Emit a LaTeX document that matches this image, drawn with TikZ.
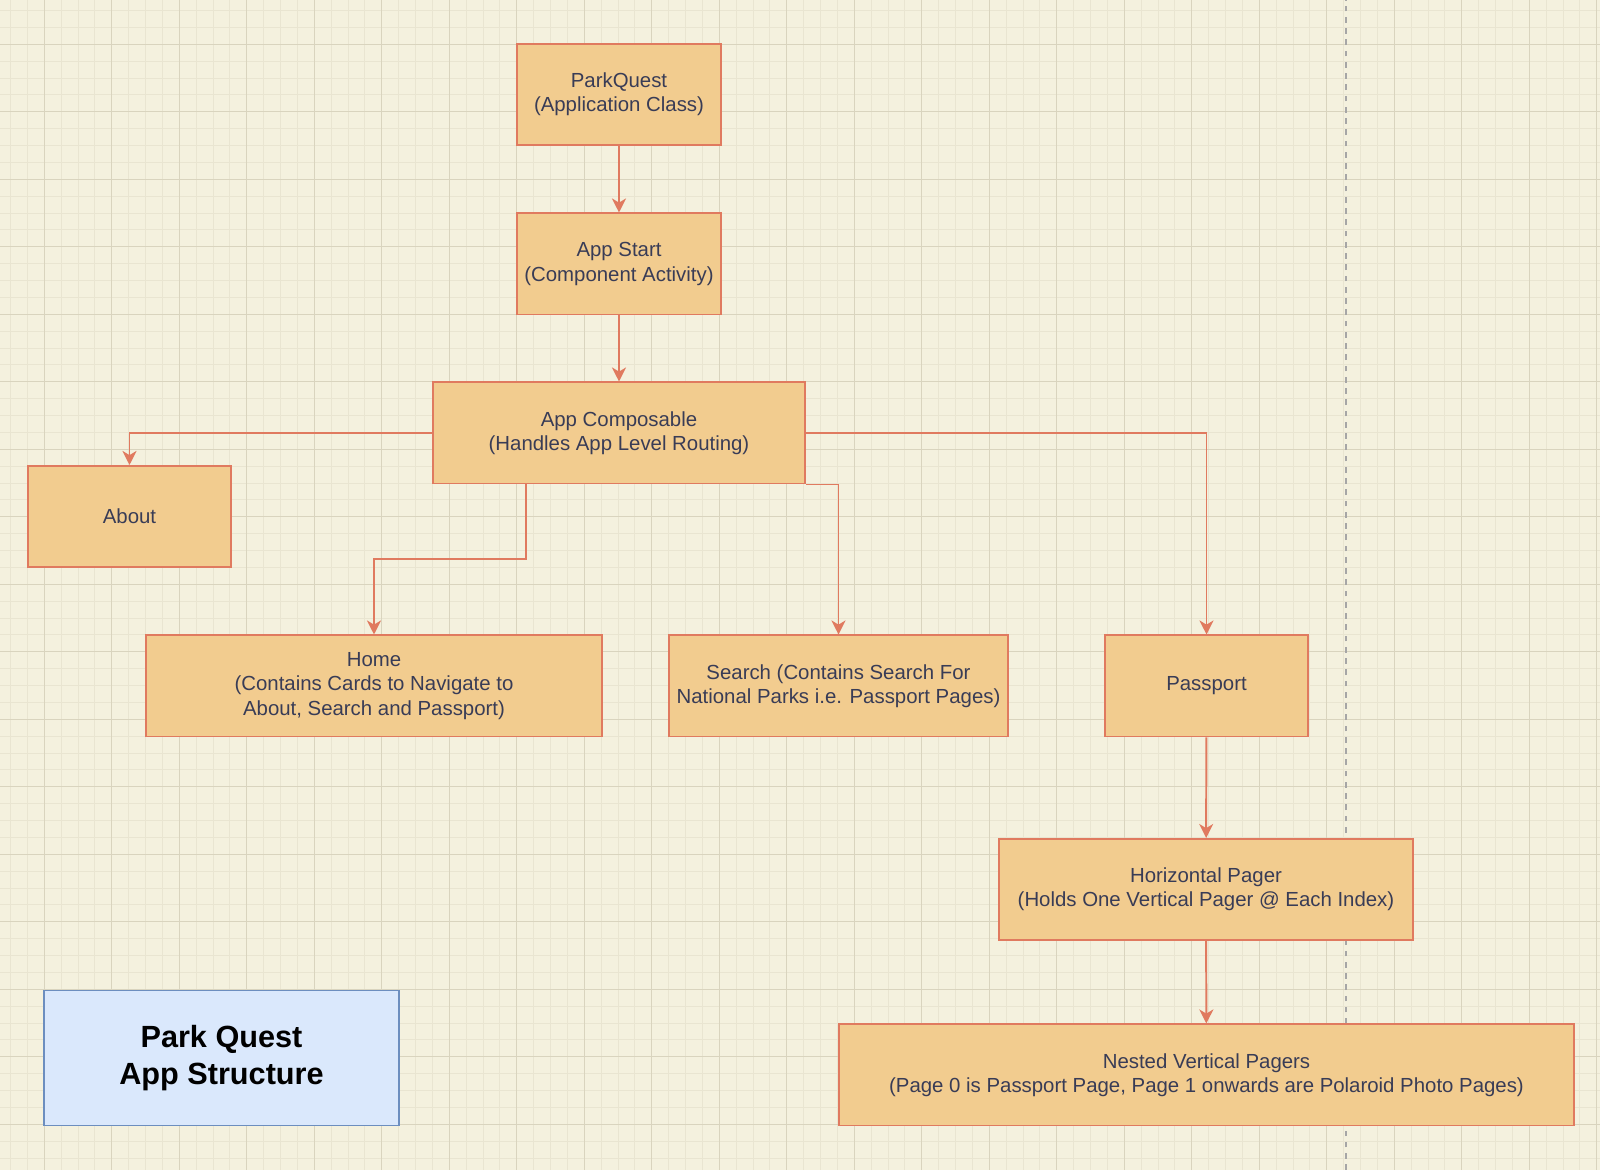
\documentclass[tikz,border=0pt]{standalone}
\usepackage{xcolor}
\usepackage{fontspec}
\setmainfont{Liberation Sans}
\usepackage{tikz}
\usetikzlibrary{positioning,shapes,arrows.meta}
\definecolor{paper}{HTML}{F4F1DE}
\definecolor{gridminor}{HTML}{E9E5D1}
\definecolor{gridmajor}{HTML}{D9D4BE}
\definecolor{boxfill}{HTML}{F2CC8F}
\definecolor{boxline}{HTML}{E07A5F}
\definecolor{boxtext}{HTML}{393C56}
\definecolor{titlefill}{HTML}{DAE8FC}
\definecolor{titleline}{HTML}{6C8EBF}

\begin{document}
\begin{tikzpicture}[x=0.025cm, y=0.025cm,
  appbox/.style={draw=boxline, fill=boxfill, text=boxtext, line width=1.4pt, rectangle, minimum height=2.525cm, align=center, font=\fontsize{14.5pt}{17.4pt}\selectfont},
  link/.style={draw=boxline, line width=1.4pt, -{Stealth[length=10pt,width=10pt,inset=3pt]}}]
\useasboundingbox (0,0) rectangle (1600,1170);
\fill[paper] (0,0) rectangle (1600,1170);
\foreach \k [evaluate=\k as \gx using 44.3+16.875*\k] in {-3,...,93}
  \draw[gridminor, line width=0.7pt] (\gx,0) -- (\gx,1170);
\foreach \k [evaluate=\k as \gy using 1125.7-16.875*\k] in {-3,...,70}
  \draw[gridminor, line width=0.7pt] (0,\gy) -- (1600,\gy);
\foreach \k [evaluate=\k as \gx using 44.3+67.5*\k] in {-1,...,23}
  \draw[gridmajor, line width=0.8pt] (\gx,0) -- (\gx,1170);
\foreach \k [evaluate=\k as \gy using 1125.7-67.5*\k] in {-1,...,17}
  \draw[gridmajor, line width=0.8pt] (0,\gy) -- (1600,\gy);
\draw[gray!70, line width=0.8pt, dash pattern=on 4pt off 4pt] (1346,0) -- (1346,1170);

\node[appbox, minimum width=5.075cm] (parkquest) at (619,1075.5) {ParkQuest\\(Application Class)};
\node[appbox, minimum width=5.075cm] (appstart) at (619,906) {App Start\\(Component Activity)};
\node[appbox, minimum width=9.3cm] (composable) at (619,737) {App Composable\\(Handles App Level Routing)};
\node[appbox, minimum width=5.075cm] (about) at (129.5,653.5) {About};
\node[appbox, minimum width=11.4cm] (home) at (374,484) {Home\\(Contains Cards to Navigate to\\About, Search and Passport)};
\node[appbox, minimum width=8.475cm] (search) at (838.5,484) {Search (Contains Search For\\National Parks i.e. Passport Pages)};
\node[appbox, minimum width=5.075cm] (passport) at (1206.5,484) {Passport};
\node[appbox, minimum width=10.35cm] (hpager) at (1206,280.5) {Horizontal Pager\\(Holds One Vertical Pager @ Each Index)};
\node[appbox, minimum width=18.375cm] (vpagers) at (1206.5,95) {Nested Vertical Pagers\\(Page 0 is Passport Page, Page 1 onwards are Polaroid Photo Pages)};
\node[draw=titleline, fill=titlefill, line width=1.2pt, minimum width=8.875cm, minimum height=3.375cm, align=center, font=\fontsize{21.8pt}{26.1pt}\selectfont\bfseries] (title) at (221.5,112) {Park Quest\\App Structure};

\coordinate (homebend) at (526,611);
\draw[link] (parkquest) -- (appstart);
\draw[link] (appstart) -- (composable);
\draw[link] (composable.west) -| (about.north);
\draw[link] (homebend |- composable.south) -- (homebend) -| (home.north);
\draw[link] (composable.south east) -| (search.north);
\draw[link] (composable.east) -| (passport.north);
\draw[link] (passport) -- (hpager);
\draw[link] (hpager) -- (vpagers);
\end{tikzpicture}
\end{document}
